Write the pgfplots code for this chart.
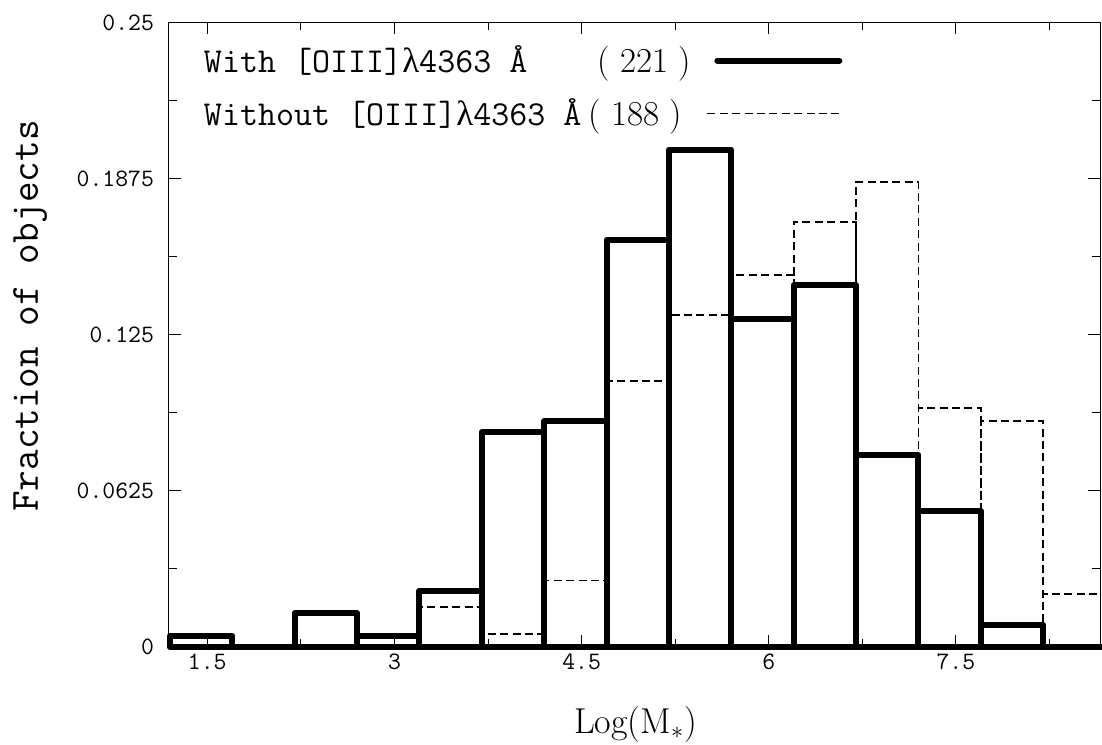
\documentclass[border=0pt]{standalone}
\usepackage{pgfplots}
\pgfplotsset{compat=1.18}
\usepackage{fontspec}
\newfontfamily\grk{Liberation Serif}
\pgfplotsset{
  legsolid/.style={legend image code/.code={\path (-6pt,0pt); \draw[black,line width=3pt,line cap=round] (5pt,0pt) -- (66pt,0pt);}},
  legdash/.style={legend image code/.code={\path (-6pt,0pt); \draw[black,line width=0.8pt,dash pattern=on 4pt off 2.2pt] (0pt,0pt) -- (67pt,0pt);}},
}
\begin{document}
\begin{tikzpicture}
\begin{axis}[
  at={(0,0)}, anchor=south west,
  scale only axis,
  width=465.5pt, height=312.3pt,
  xmin=1.193, xmax=8.655,
  ymin=0, ymax=0.25,
  clip=false,
  axis line style={line width=0.5pt},
  xtick={1.5,3,4.5,6,7.5},
  xticklabels={1.5,3,4.5,6,7.5},
  minor xtick={2.25,3.75,5.25,6.75,8.25},
  ytick={0,0.0625,0.125,0.1875,0.25},
  yticklabels={0,0.0625,0.125,0.1875,0.25},
  minor ytick={0.03125,0.09375,0.15625,0.21875},
  tick style={black, line width=0.5pt},
  major tick length=6pt, minor tick length=4pt,
  tick align=inside,
  ticklabel style={font=\fontsize{12.5}{14}\selectfont\ttfamily},
  yticklabel style={xshift=-4pt},
  xlabel={Log(M$_*$)},
  xlabel style={at={(axis description cs:0.501,-0.1377)}, anchor=base, font=\fontsize{18}{20}\selectfont},
  ylabel={Fraction of objects},
  ylabel style={at={(axis description cs:-0.1493,0.53)}, anchor=center, font=\fontsize{20}{22}\selectfont\ttfamily},
  legend style={at={(axis description cs:0.0333,0.969)}, anchor=north west, draw=none, fill=none,
    inner sep=0pt, outer sep=0pt, row sep=7.5pt,
    font=\fontsize{17.5}{20}\selectfont},
  legend cell align=left,
  legend plot pos=right,
]
% Without [OIII]4363 (188 objects), dashed
\addplot[ybar interval, draw=black, line width=0.8pt, dash pattern=on 4pt off 2.2pt, forget plot] coordinates {
(3.2,0.0160) (3.7,0.0053) (4.2,0.0266) (4.7,0.1064) (5.2,0.1330) (5.7,0.1489)
(6.2,0.1702) (6.7,0.1862) (7.2,0.0957) (7.7,0.0904) (8.2,0.0213) (8.7,0.0213)
};
% With [OIII]4363 (221 objects), thick solid
\addplot[ybar interval, draw=black, line width=3pt, line join=round, forget plot] coordinates {
(1.2,0.0045) (1.7,0) (2.2,0.0136) (2.7,0.0045) (3.2,0.0226) (3.7,0.0860)
(4.2,0.0905) (4.7,0.1629) (5.2,0.1991) (5.7,0.1312) (6.2,0.1448) (6.7,0.0769)
(7.2,0.0543) (7.7,0.0090) (8.2,0) (8.7,0)
};
\addlegendimage{legsolid}
\addlegendentry{\makebox[197pt][l]{\ttfamily With [OIII]{\grk λ}4363 \AA}(\hspace{5pt}221\hspace{5pt})}
\addlegendimage{legdash}
\addlegendentry{\makebox[192.5pt][l]{\ttfamily Without [OIII]{\grk λ}4363 \AA}(\hspace{5pt}188\hspace{5pt})}
\end{axis}
\pgfresetboundingbox
\path (-84.5pt,-48.5pt) rectangle (466.5pt,323.5pt);
\end{tikzpicture}
\end{document}
